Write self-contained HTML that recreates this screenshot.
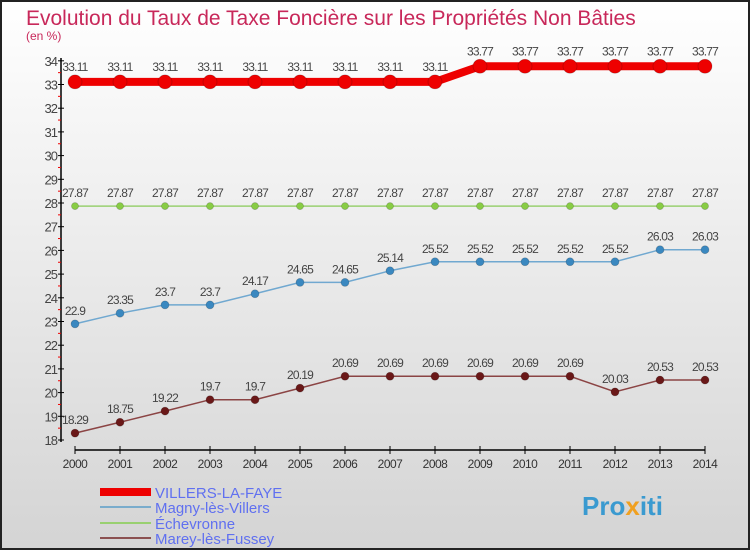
<!DOCTYPE html>
<html><head><meta charset="utf-8"><style>
body{margin:0;}
svg{display:block;font-family:"Liberation Sans",sans-serif;}
</style></head><body>
<svg id="c" width="750" height="550" viewBox="0 0 750 550">
<defs><linearGradient id="bg" x1="0" y1="0" x2="0" y2="1"><stop offset="0" stop-color="#ffffff"/><stop offset="1" stop-color="#d4d4d4"/></linearGradient></defs>
<rect x="1" y="1" width="748" height="548" fill="url(#bg)" stroke="#222" stroke-width="2"/>
<text x="26" y="25" font-size="21" fill="#c8285a">Evolution du Taux de Taxe Foncière sur les Propriétés Non Bâties</text>
<text x="26" y="40" font-size="12" fill="#c8285a">(en %)</text>
<g id="axes"></g><g id="series"></g>
<g>
<rect x="100" y="488" width="51" height="8" fill="#e00"/>
<text x="155" y="498" font-size="15" fill="#6070f0">VILLERS-LA-FAYE</text>
<rect x="100" y="506" width="51" height="2" fill="#7aaccc"/>
<text x="155" y="513" font-size="15" fill="#6070f0">Magny-lès-Villers</text>
<rect x="100" y="522" width="51" height="2" fill="#99d070"/>
<text x="155" y="529" font-size="15" fill="#6070f0">Échevronne</text>
<rect x="100" y="537" width="51" height="2" fill="#8b5050"/>
<text x="155" y="544" font-size="15" fill="#6070f0">Marey-lès-Fussey</text>
</g>
<text x="582" y="515" font-size="26" font-weight="bold" fill="#3a9ad0">Pro<tspan fill="#f0a020">x</tspan>iti</text>
</svg>
<script>
const years=[2000,2001,2002,2003,2004,2005,2006,2007,2008,2009,2010,2011,2012,2013,2014];
const villers=[33.11,33.11,33.11,33.11,33.11,33.11,33.11,33.11,33.11,33.77,33.77,33.77,33.77,33.77,33.77];
const magny=[22.9,23.35,23.7,23.7,24.17,24.65,24.65,25.14,25.52,25.52,25.52,25.52,25.52,26.03,26.03];
const echevronne=[27.87,27.87,27.87,27.87,27.87,27.87,27.87,27.87,27.87,27.87,27.87,27.87,27.87,27.87,27.87];
const marey=[18.29,18.75,19.22,19.7,19.7,20.19,20.69,20.69,20.69,20.69,20.69,20.69,20.03,20.53,20.53];
const yTicks=[18,19,20,21,22,23,24,25,26,27,28,29,30,31,32,33,34];
const NS="http://www.w3.org/2000/svg";
const X=i=>75+i*45;
const Y=v=>440-(v-18)*23.7;
function mk(t,a,p){const e=document.createElementNS(NS,t);for(const k in a)e.setAttribute(k,a[k]);p.appendChild(e);return e;}
const ax=document.getElementById('axes');
let e=mk('line',{x1:61,y1:58,x2:61,y2:442,stroke:'#000','stroke-width':1.5},ax);


e=mk('line',{x1:75,y1:450,x2:705,y2:450,stroke:'#000','stroke-width':1.5},ax);


yTicks.forEach(v=>{
 mk('line',{x1:58,y1:Y(v),x2:64,y2:Y(v),stroke:'#000'},ax);
 if(v<34) mk('line',{x1:58,y1:Y(v+0.5),x2:61,y2:Y(v+0.5),stroke:'#e00'},ax);
 const t=mk('text',{x:57,y:Y(v)+5,'font-size':13,fill:'#444','text-anchor':'end','letter-spacing':'-1'},ax);
 t.textContent=v;
 
 
});
years.forEach((yr,i)=>{
 mk('line',{x1:X(i),y1:446,x2:X(i),y2:454,stroke:'#000'},ax);
 const t=mk('text',{x:X(i),y:468,'font-size':12,fill:'#333','text-anchor':'middle','letter-spacing':'-0.5'},ax);
 t.textContent=yr;
 
 
});
const sg=document.getElementById('series');
function draw(vals,name,col,dot,w,r,lab){
 const g=mk('g',{},sg);
 
 
 const l=mk('polyline',{points:vals.map((v,i)=>X(i)+','+Y(v)).join(' '),fill:'none',stroke:col,'stroke-width':w},g);
 
 
 vals.forEach((v,i)=>{
  const c=mk('circle',{cx:X(i),cy:Y(v),r:r,fill:dot,stroke:'#0003','stroke-width':0.8},g);
  
  
  const t=mk('text',{x:X(i),y:Y(v)-lab,'font-size':12,fill:'#444','text-anchor':'middle','letter-spacing':'-0.8'},g);
  t.textContent=v;
  
  
 });
}
draw(marey,'marey','#8b4444','#6a1818',1.5,4,9);
draw(magny,'magny','#70a8d0','#3a88c0',1.5,4,9);
draw(echevronne,'echevronne','#99d070','#88cc44',1.5,3.5,9);
draw(villers,'villers','#e00','#e00',8,7,11);
</script>
</body></html>
